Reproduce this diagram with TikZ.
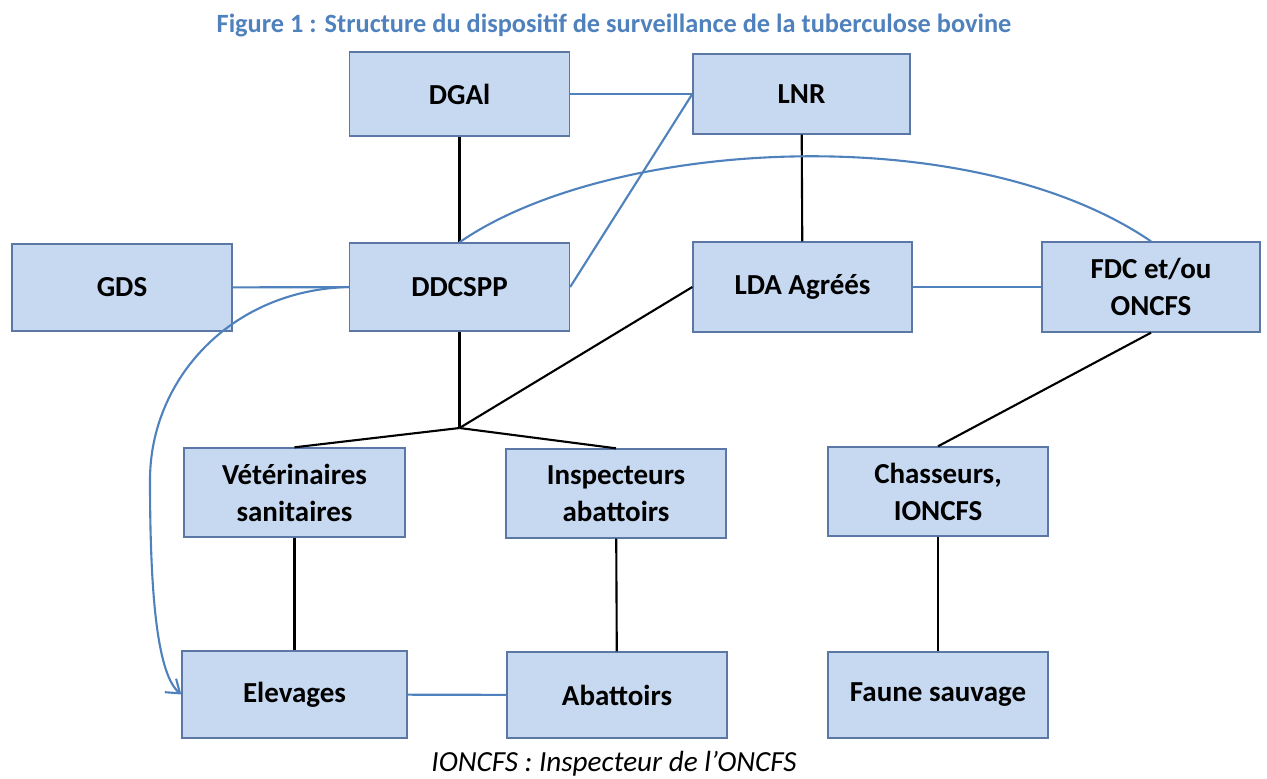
\documentclass[tikz,border=0pt]{standalone}
\usepackage{fontspec}
\setmainfont{Carlito}
\usetikzlibrary{arrows.meta}
\definecolor{boxfill}{HTML}{C6D9F1}
\definecolor{boxline}{HTML}{5A77A6}
\definecolor{linkblue}{HTML}{4F81BD}
\tikzset{
  box/.style={draw=boxline, fill=boxfill, line width=0.8pt, align=center,
    minimum width=4.4cm, minimum height=1.76cm, inner sep=0pt,
    font=\bfseries\fontsize{16.5}{21}\selectfont},
  blink/.style={draw=linkblue, line width=1.2pt},
  klink/.style={draw=black, line width=1.2pt}
}
\begin{document}
\begin{tikzpicture}[x=0.02cm, y=-0.02cm]
\useasboundingbox (0,0) rectangle (1267,778);
\node[font=\bfseries\fontsize{15}{18}\selectfont, text=linkblue] (title) at (614,25) {Figure 1 : Structure du dispositif de surveillance de la tuberculose bovine};
\node[box, minimum height=1.68cm] (dgal) at (459.5,94) {DGAl};
\node[box, minimum width=4.34cm, minimum height=1.6cm] (lnr) at (801.5,94) {LNR};
\node[box, minimum height=1.74cm] (gds) at (122,287.5) {GDS};
\node[box] (ddcspp) at (459.5,287) {DDCSPP};
\node[box, minimum width=4.38cm, minimum height=1.8cm] (lda) at (802.5,287) {LDA Agréés};
\node[box, minimum width=4.36cm, minimum height=1.8cm] (fdc) at (1151,287) {FDC et/ou\\ONCFS};
\node[box, minimum width=4.42cm, minimum height=1.78cm] (vet) at (294.5,492.5) {Vétérinaires\\sanitaires};
\node[box, minimum height=1.78cm] (insp) at (616,493.5) {Inspecteurs\\abattoirs};
\node[box, minimum height=1.78cm] (chas) at (938,491.5) {Chasseurs,\\IONCFS};
\node[box, minimum width=4.5cm, minimum height=1.74cm] (elev) at (294.5,694.5) {Elevages};
\node[box, minimum height=1.72cm] (abat) at (617,695) {Abattoirs};
\node[box, minimum height=1.72cm] (faune) at (938,695) {Faune sauvage};
\coordinate (jn) at (459.5,428);
\node[font=\itshape\fontsize{16.6}{20}\selectfont] (legend) at (614,764) {IONCFS : Inspecteur de l’ONCFS};
% liens hierarchiques
\draw[klink] (dgal) -- (ddcspp);
\draw[klink] (lnr) -- (lda);
\draw[klink] (ddcspp) -- (jn);
\draw[klink] (jn) -- (vet.north);
\draw[klink] (jn) -- (insp.north);
\draw[klink] (jn) -- (lda.west);
\draw[klink] (fdc.south) -- (chas.north);
\draw[klink] (vet) -- (elev);
\draw[klink] (insp) -- (abat);
\draw[klink] (chas) -- (faune);
% liens d'information
\draw[blink] (dgal) -- (lnr);
\draw[blink] (gds) -- (ddcspp);
\draw[blink] (lda) -- (fdc);
\draw[blink] (elev) -- (abat);
\draw[blink] (ddcspp.east) -- (lnr.west);
\draw[blink] (ddcspp.north) .. controls (610,138) and (970,118) .. (fdc.north);
\draw[blink, -{Straight Barb[length=7pt, width=10pt]}] (ddcspp.west) .. controls (230,290) and (150,380) .. (150,480) .. controls (150,600) and (158,675) .. (elev.west);
\end{tikzpicture}
\end{document}
